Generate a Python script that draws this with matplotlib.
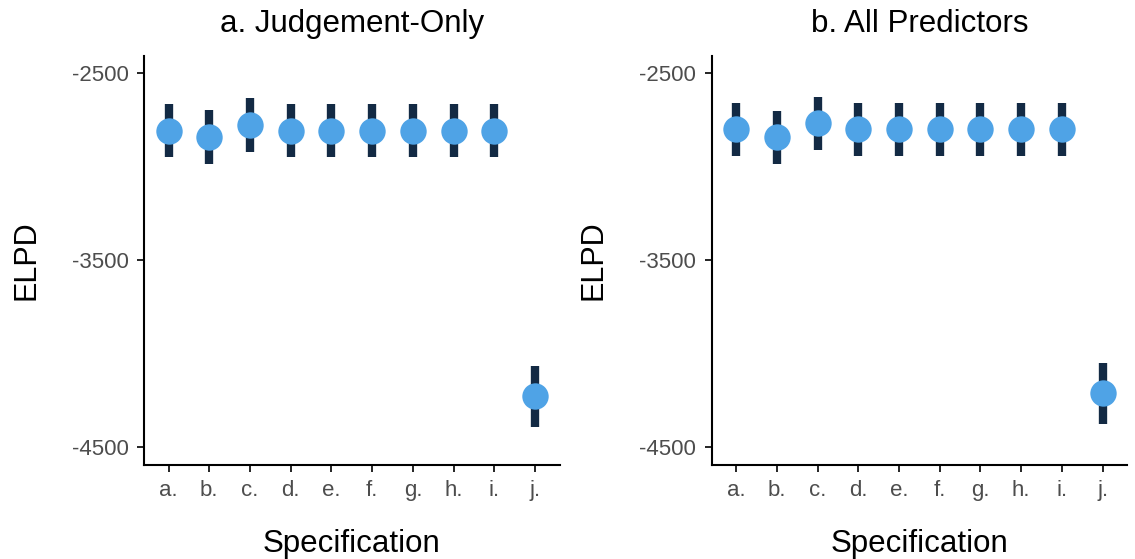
import numpy as np
import matplotlib
matplotlib.use("Agg")
import matplotlib.pyplot as plt

plt.rcParams["font.family"] = ["Liberation Sans", "DejaVu Sans"]
plt.rcParams["axes.unicode_minus"] = False

specs = ["a.", "b.", "c.", "d.", "e.", "f.", "g.", "h.", "i.", "j."]

# panel a: judgement-only
elpd_a = [-2808, -2841, -2778, -2808, -2808, -2808, -2808, -2808, -2808, -4227]
lo_a = [-2949, -2987, -2922, -2949, -2949, -2949, -2949, -2949, -2949, -4393]
hi_a = [-2666, -2698, -2634, -2666, -2666, -2666, -2666, -2666, -2666, -4067]

# panel b: all predictors
elpd_b = [-2801, -2842, -2767, -2801, -2801, -2801, -2801, -2801, -2801, -4211]
lo_b = [-2944, -2987, -2912, -2944, -2944, -2944, -2944, -2944, -2944, -4377]
hi_b = [-2660, -2703, -2628, -2660, -2660, -2660, -2660, -2660, -2660, -4051]

titles = ["a. Judgement-Only", "b. All Predictors"]

fig = plt.figure(figsize=(11.35, 5.59), dpi=100)
axes = [fig.add_axes([0.127, 0.168, 0.366, 0.732]),
        fig.add_axes([0.627, 0.168, 0.366, 0.732])]

panels = [(elpd_a, lo_a, hi_a), (elpd_b, lo_b, hi_b)]
x = np.arange(len(specs))
for ax, (m, lo, hi), title in zip(axes, panels, titles):
    ax.vlines(x, lo, hi, color="#132a44", linewidth=6, zorder=2)
    ax.plot(x, m, "o", color="#4fa3e6", markersize=19, markeredgewidth=0, zorder=3)
    ax.set_xlim(-0.6, 9.6)
    ax.set_ylim(-4596, -2409)
    ax.set_xticks(x)
    ax.set_xticklabels(specs)
    ax.set_yticks([-4500, -3500, -2500])
    ax.spines["top"].set_visible(False)
    ax.spines["right"].set_visible(False)
    for s in ["left", "bottom"]:
        ax.spines[s].set_linewidth(1.5)
    ax.tick_params(labelsize=16, labelcolor="#4d4d4d", length=5, width=1.2, pad=6)
    ax.set_title(title, fontsize=22.5, pad=17)
    ax.set_xlabel("Specification", fontsize=22.5, labelpad=20)
    ax.set_ylabel("ELPD", fontsize=22, labelpad=22)

fig.savefig("out.png", dpi=100)
